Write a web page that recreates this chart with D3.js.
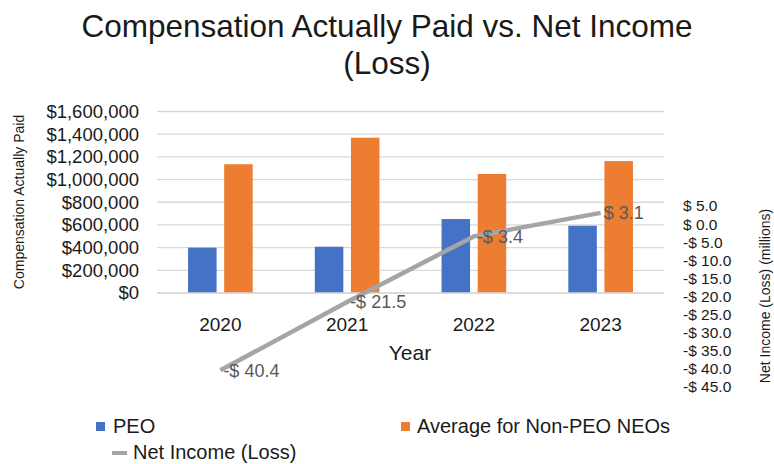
<!DOCTYPE html>
<html>
<head>
<meta charset="utf-8">
<script src="https://cdn.jsdelivr.net/npm/d3@7"></script>
<style>
  body { margin: 0; background: #fff; }
  svg { display: block; font-family: "Liberation Sans", Arial, sans-serif; }
</style>
</head>
<body>
<svg id="chart" width="774" height="464"></svg>
<script>
// data
let years = ["2020", "2021", "2022", "2023"];
let peoPaid = [400000, 408000, 652000, 593000];
let neoPaid = [1135000, 1369000, 1049000, 1163000];
let netIncome = [-40.4, -21.5, -3.4, 3.1];
let seriesNames = ["PEO", "Average for Non-PEO NEOs"];
let leftTicks = [0, 200000, 400000, 600000, 800000, 1000000, 1200000, 1400000, 1600000];
let rightTicks = [5, 0, -5, -10, -15, -20, -25, -30, -35, -40, -45];

let colors = { peo: "#4472C4", neo: "#ED7D31", line: "#A5A5A5" };

let svg = d3.select("#chart");

// title
svg.append("text")
  .attr("x", 387).attr("y", 37)
  .attr("text-anchor", "middle")
  .attr("font-size", 31.5)
  .attr("fill", "#1a1a1a")
  .text("Compensation Actually Paid vs. Net Income");
svg.append("text")
  .attr("x", 387).attr("y", 74)
  .attr("text-anchor", "middle")
  .attr("font-size", 31.5)
  .attr("fill", "#1a1a1a")
  .text("(Loss)");

// scales
let x0 = d3.scaleBand().domain(years).range([157, 664]);
let groupW = x0.bandwidth() * 0.51;
let x1 = d3.scaleBand().domain(seriesNames).range([-groupW / 2, groupW / 2]).paddingInner(0.21);
let y = d3.scaleLinear().domain([0, 1600000]).range([293, 111.5]);
let yR = d3.scaleLinear().domain([-45, 5]).range([387, 206]);

// gridlines
svg.append("g")
  .selectAll("line")
  .data(leftTicks)
  .enter().append("line")
    .attr("x1", 157).attr("x2", 664)
    .attr("y1", d => y(d)).attr("y2", d => y(d))
    .attr("stroke", "#d9d9d9")
    .attr("stroke-width", 1.3);

// left axis
let yAxis = d3.axisLeft(y)
  .tickValues(leftTicks)
  .tickSize(0)
  .tickPadding(0)
  .tickFormat(d => "$" + d3.format(",")(d));
let gy = svg.append("g")
  .attr("transform", "translate(139,0)")
  .call(yAxis);
gy.select(".domain").remove();
gy.selectAll("text")
  .attr("font-size", 18.5)
  .attr("fill", "#1a1a1a")
  .attr("font-family", "Liberation Sans, Arial, sans-serif");

// right axis
let yAxisR = d3.axisRight(yR)
  .tickValues(rightTicks)
  .tickSize(0)
  .tickPadding(0)
  .tickFormat(d => (d < 0 ? "-$ " : "$ ") + Math.abs(d).toFixed(1));
let gr = svg.append("g")
  .attr("transform", "translate(683,0)")
  .call(yAxisR);
gr.select(".domain").remove();
gr.selectAll("text")
  .attr("font-size", 15.5)
  .attr("fill", "#1a1a1a")
  .attr("font-family", "Liberation Sans, Arial, sans-serif");

// x axis labels
let xAxis = d3.axisBottom(x0).tickSize(0).tickPadding(0);
let gx = svg.append("g")
  .attr("transform", "translate(0,317)")
  .call(xAxis);
gx.select(".domain").remove();
gx.selectAll("text")
  .attr("font-size", 19)
  .attr("fill", "#1a1a1a")
  .attr("font-family", "Liberation Sans, Arial, sans-serif");

// axis titles
svg.append("text")
  .attr("x", 410).attr("y", 360)
  .attr("text-anchor", "middle")
  .attr("font-size", 21)
  .attr("fill", "#1a1a1a")
  .text("Year");

svg.append("text")
  .attr("transform", "translate(24,202) rotate(-90)")
  .attr("text-anchor", "middle")
  .attr("font-size", 14)
  .attr("fill", "#1a1a1a")
  .text("Compensation Actually Paid");

svg.append("text")
  .attr("transform", "translate(770,296) rotate(-90)")
  .attr("text-anchor", "middle")
  .attr("font-size", 14)
  .attr("fill", "#1a1a1a")
  .text("Net Income (Loss) (millions)");

// bars
let barData = years.map((yr, i) => ({ year: yr, vals: [peoPaid[i], neoPaid[i]] }));
let groups = svg.append("g").selectAll("g")
  .data(barData)
  .enter().append("g")
    .attr("transform", d => "translate(" + (x0(d.year) + x0.bandwidth() / 2) + ",0)");
groups.selectAll("rect")
  .data(d => d.vals.map((v, j) => ({ name: seriesNames[j], value: v })))
  .enter().append("rect")
    .attr("x", d => x1(d.name))
    .attr("width", x1.bandwidth())
    .attr("y", d => y(d.value))
    .attr("height", d => y(0) - y(d.value))
    .attr("fill", (d, j) => j === 0 ? colors.peo : colors.neo);

// base line
svg.append("line")
  .attr("x1", 157).attr("x2", 664)
  .attr("y1", y(0)).attr("y2", y(0))
  .attr("stroke", "#d9d9d9")
  .attr("stroke-width", 1.3);

// net income line
let line = d3.line()
  .x((d, i) => x0(years[i]) + x0.bandwidth() / 2)
  .y(d => yR(d));
svg.append("path")
  .datum(netIncome)
  .attr("d", line)
  .attr("fill", "none")
  .attr("stroke", colors.line)
  .attr("stroke-width", 4.5)
  .attr("stroke-linejoin", "round");

svg.append("g").selectAll("text")
  .data(netIncome)
  .enter().append("text")
    .attr("x", (d, i) => x0(years[i]) + x0.bandwidth() / 2 + 3)
    .attr("y", d => yR(d))
    .attr("dy", "0.35em")
    .attr("font-size", 18)
    .attr("fill", "#595959")
    .text(d => (d < 0 ? "-$ " : "$ ") + Math.abs(d).toFixed(1));

// legend
let legend = svg.append("g");
legend.append("rect").attr("x", 96).attr("y", 422).attr("width", 9).attr("height", 9).attr("fill", colors.peo);
legend.append("text").attr("x", 113).attr("y", 433).attr("font-size", 20).attr("fill", "#1a1a1a").text(seriesNames[0]);
legend.append("rect").attr("x", 401).attr("y", 422).attr("width", 9).attr("height", 9).attr("fill", colors.neo);
legend.append("text").attr("x", 417).attr("y", 433).attr("font-size", 20).attr("fill", "#1a1a1a").text(seriesNames[1]);
legend.append("line").attr("x1", 112).attr("x2", 127).attr("y1", 453).attr("y2", 453)
  .attr("stroke", colors.line).attr("stroke-width", 4);
legend.append("text").attr("x", 133).attr("y", 459).attr("font-size", 20).attr("fill", "#1a1a1a").text("Net Income (Loss)");
</script>
</body>
</html>
